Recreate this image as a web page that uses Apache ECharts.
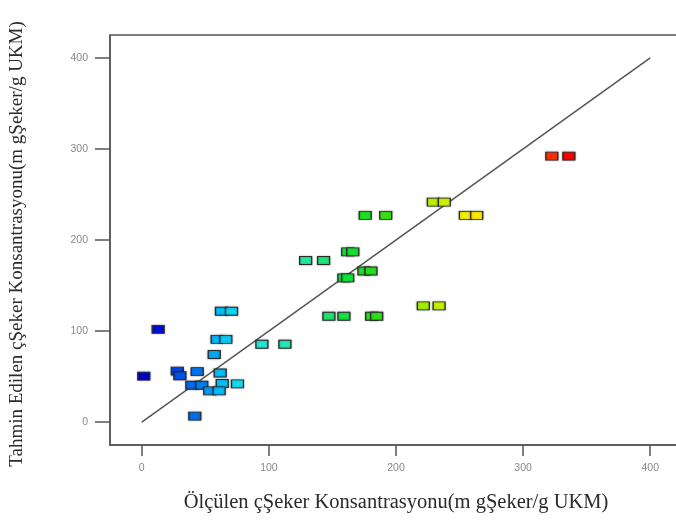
<!DOCTYPE html>
<html>
<head>
<meta charset="utf-8">
<script src="https://cdn.jsdelivr.net/npm/echarts@6/dist/echarts.min.js"></script>
<style>html,body{margin:0;padding:0;background:#fff;}#c{width:676px;height:521px;}</style>
</head>
<body>
<div id="c"></div>
<script>
// Measured (x) and predicted (y) sugar concentrations
const measured = [322.6, 336, 254.6, 263.5, 229.4, 238, 221.5, 233.9,
  175.8, 191.9, 162, 166, 128.9, 143, 174.8, 180.3, 159, 162, 147.2, 159, 180.8, 184.8,
  94.5, 112.6, 62.7, 70.6, 59.3, 66.1, 57,
  12.9, 1.6, 28, 30, 43.6, 61.7, 39.4, 47.2, 63.3, 75.3, 53.5, 60.9, 41.7];
const predicted = [292, 292, 227, 227, 241.5, 241.5, 127.7, 127.7,
  227, 227, 187, 187, 177.5, 177.5, 166, 166, 158.4, 158.4, 116.3, 116.3, 116.3, 116.3,
  85.6, 85.6, 121.8, 121.8, 91, 91, 74.3,
  102, 50.5, 56, 51, 55.6, 54, 40.6, 40.6, 42.5, 42, 34.4, 34.4, 6.6];
const lineX = [0, 400];
const lineY = [0, 400];
const tickValues = [0, 100, 200, 300, 400];
const xTitle = 'Ölçülen çŞeker Konsantrasyonu(m gŞeker/g UKM)';
const yTitle = 'Tahmin Edilen çŞeker Konsantrasyonu(m gŞeker/g UKM)';

// colour ramp (style)
const stops = [[0,'#0000c0'],[15,'#0010d8'],[30,'#0050e8'],[45,'#0078f0'],[60,'#00b8f8'],[72,'#10d8f0'],
  [95,'#20e8d0'],[135,'#20e890'],[165,'#10e030'],[190,'#30e010'],[225,'#b0f000'],[240,'#d0f000'],
  [260,'#fff000'],[322,'#ff3000'],[336,'#ff0000']];
function hex(c){return [parseInt(c.slice(1,3),16),parseInt(c.slice(3,5),16),parseInt(c.slice(5,7),16)];}
function colorAt(v){
  if (v <= stops[0][0]) return stops[0][1];
  for (let i=1;i<stops.length;i++){
    if (v <= stops[i][0]){
      const a=hex(stops[i-1][1]), b=hex(stops[i][1]);
      const t=(v-stops[i-1][0])/(stops[i][0]-stops[i-1][0]);
      return 'rgb('+a.map((x,k)=>Math.round(x+(b[k]-x)*t)).join(',')+')';
    }
  }
  return stops[stops.length-1][1];
}

const chart = echarts.init(document.getElementById('c'), null, {renderer:'canvas'});
const labelStyle = {color:'#888', fontSize:10.5, fontFamily:'Liberation Sans'};
chart.setOption({
  animation:false,
  backgroundColor:'#fff',
  grid:{left:110, top:35, width:572, height:410, show:true, borderColor:'#555', borderWidth:1.5,
        containLabel:false, outerBoundsMode:'none'},
  xAxis:{type:'value', min:-25, max:425,
    name:xTitle, nameLocation:'middle', nameGap:47,
    nameTextStyle:{fontFamily:'Liberation Serif', fontSize:20.5, color:'#2a2a2a'},
    axisLine:{show:true, onZero:false, lineStyle:{color:'#555', width:1.5}},
    axisTick:{show:true, length:11, customValues:tickValues, lineStyle:{color:'#555', width:1.5}},
    axisLabel:Object.assign({margin:18, customValues:tickValues}, labelStyle),
    splitLine:{show:false}},
  yAxis:{type:'value', min:-25, max:425,
    name:yTitle, nameLocation:'middle', nameGap:83,
    nameTextStyle:{fontFamily:'Liberation Serif', fontSize:19, color:'#2a2a2a', padding:[0,8,0,0]},
    axisLine:{show:true, onZero:false, lineStyle:{color:'#555', width:1.5}},
    axisTick:{show:true, length:15, customValues:tickValues, lineStyle:{color:'#555', width:1.5}},
    axisLabel:Object.assign({margin:22, customValues:tickValues}, labelStyle),
    splitLine:{show:false}},
  series:[
    {type:'line', data:lineX.map((x,i)=>[x,lineY[i]]), symbol:'none', silent:true, z:1,
     lineStyle:{color:'#555', width:1.5}},
    {type:'scatter', z:3, data:measured.map((x,i)=>[x,predicted[i]]),
     symbol:'rect', symbolSize:[12,8],
     itemStyle:{color:p=>colorAt(p.value[0]), borderColor:'#2a2a2a', borderWidth:1,
       shadowBlur:2, shadowColor:'rgba(0,0,0,0.35)', opacity:1}}
  ]
});
</script>
</body>
</html>
